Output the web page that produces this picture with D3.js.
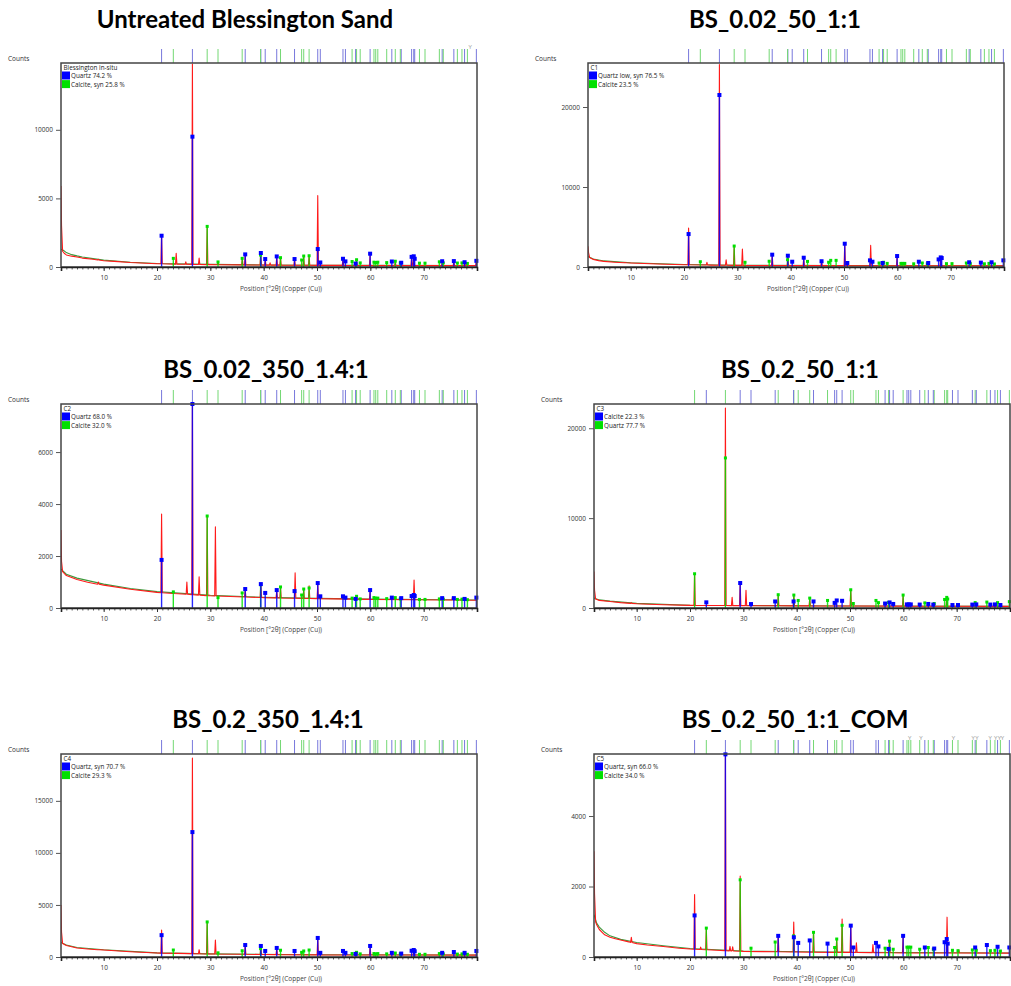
<!DOCTYPE html>
<html><head><meta charset="utf-8">
<script src="https://cdn.jsdelivr.net/npm/d3@7"></script>
<style>body{margin:0;background:#fff}svg{display:block}</style>
</head><body>
<svg id="chart" width="1011" height="986"></svg>
<script>
// ---------------- DATA ----------------
const titles = ["Untreated Blessington Sand","BS_0.02_50_1:1","BS_0.02_350_1.4:1","BS_0.2_50_1:1","BS_0.2_350_1.4:1","BS_0.2_50_1:1_COM"];
const sampleNames = ["Blessington in-situ","C1","C2","C3","C4","C5"];
const legendBlue = ["Quartz 74.2 %","Quartz low, syn 76.5 %","Quartz 68.0 %","Calcite 22.3 %","Quartz, syn 70.7 %","Quartz, syn 66.0 %"];
const legendGreen = ["Calcite, syn 25.8 %","Calcite 23.5 %","Calcite 32.0 %","Quartz 77.7 %","Calcite 29.3 %","Calcite 34.0 %"];
const yMax = [14870, 25500, 7850, 22700, 19500, 5760];
const yTicks = [[0,5000,10000],[0,10000,20000],[0,2000,4000,6000],[0,10000,20000],[0,5000,10000,15000],[0,2000,4000]];
const xTicks = [10,20,30,40,50,60,70];
const xDomain = [2, 80];
const xLabel = "Position [°2θ] (Copper (Cu))";
const yLabel = "Counts";

// reference peak positions (°2θ)
const quartzPos = [20.86,26.64,36.54,39.47,40.29,42.45,45.79,50.14,50.62,54.87,55.33,57.24,59.96,64.03,65.79,67.74,68.14,68.32,73.47,75.66,77.67,79.88];
const calcitePos = [23.06,29.41,31.44,35.97,39.42,43.16,47.12,47.51,48.52,56.58,57.42,58.10,60.68,61.01,61.40,63.07,64.68,65.62,69.21,70.25,72.94,73.68,76.32,77.18,78.20];

// stick heights (counts), parallel to quartzPos / calcitePos, one row per panel
const quartzH = [
  [2280,9500,920,1020,580,770,580,1310,330,600,410,250,970,400,310,740,780,600,420,430,350,450],
  [4120,21500,1540,1410,660,1160,720,2910,500,830,660,500,1370,660,500,950,1200,1120,590,550,590,830],
  [1850,7850,730,920,580,690,650,960,450,450,400,350,690,400,380,460,500,460,380,380,350,400],
  [3810,16700,1480,1440,840,1100,840,2030,500,840,600,620,1440,570,500,950,1180,1000,600,660,600,710],
  [2100,12000,1150,1060,580,870,580,1830,400,580,400,300,1060,400,330,600,670,550,400,480,400,580],
  [1180,5750,600,560,400,470,380,890,270,400,300,230,600,270,240,420,510,380,270,340,290,270]
];
const calciteH = [
  [630,2960,370,630,870,680,510,800,820,400,530,300,350,330,350,320,420,300,280,280,380,300,290,300,260],
  [660,2620,590,720,910,700,590,830,830,500,590,450,450,450,450,400,500,400,420,420,500,420,400,450,380],
  [620,3540,400,580,900,810,500,730,770,380,450,350,400,380,380,360,400,350,330,330,350,340,330,340,320],
  [630,2780,440,730,730,730,570,840,800,500,620,450,400,400,400,380,450,380,330,330,380,400,380,400,330],
  [670,3370,400,600,800,650,450,580,670,330,450,300,330,300,330,300,380,300,260,260,330,300,280,300,260],
  [820,2190,250,425,600,700,270,510,900,250,450,220,280,280,280,220,270,220,190,180,200,190,180,190,170]
];

// measured scan background (red) [°2θ, counts]
const scanBg = [
  [[2.0,5900],[2.1,3000],[2.3,1150],[2.6,1000],[3,880],[4,790],[5,730],[6,650],[8,560],[10,460],[12,410],[15,330],[20,240],[25,200],[30,170],[40,140],[50,120],[60,110],[70,100],[80,100]],
  [[2.0,2600],[2.1,1800],[2.3,1200],[3,950],[4,800],[5,700],[7,600],[10,500],[15,380],[20,290],[25,240],[30,200],[40,180],[50,170],[60,160],[80,150]],
  [[2.0,3000],[2.1,1800],[2.3,1400],[3,1250],[5,1100],[7,990],[10,880],[15,720],[20,600],[30,470],[40,400],[50,360],[60,330],[80,300]],
  [[2.0,4070],[2.1,2000],[2.3,1000],[3,850],[5,730],[7,600],[10,480],[15,360],[20,290],[30,260],[50,220],[80,180]],
  [[2.0,5000],[2.1,2400],[2.3,1300],[3,1100],[5,870],[7,770],[10,670],[15,500],[20,380],[30,290],[40,240],[50,200],[80,180]],
  [[2.0,3000],[2.1,1800],[2.3,1000],[2.5,915],[3,780],[4,630],[5,560],[6,520],[7,480],[8.5,430],[10,380],[12,340],[15,300],[18,250],[20,225],[25,190],[30,160],[40,140],[50,130],[60,115],[80,110]]
];
// calculated profile background (green)
const calcBg = [
  [[2.0,1300],[2.5,1200],[3,1050],[4,900],[5,810],[6,730],[8,610],[10,500],[15,350],[20,260],[30,190],[40,150],[50,130],[60,115],[80,105]],
  [[2.0,1300],[3,1000],[5,760],[10,540],[20,310],[30,220],[50,180],[80,160]],
  [[2.0,1500],[3,1300],[5,1150],[10,920],[15,750],[20,630],[30,490],[40,410],[50,370],[60,340],[80,310]],
  [[2.0,1100],[3,900],[5,760],[10,510],[20,310],[30,270],[50,230],[80,190]],
  [[2.0,1400],[3,1150],[5,920],[10,700],[20,400],[30,300],[50,210],[80,185]],
  [[2.0,1200],[2.5,960],[3,850],[4,700],[5,600],[7,500],[10,410],[15,320],[20,240],[30,170],[50,135],[80,115]]
];
// measured scan peaks [°2θ, counts]
const scanPeaks = [
  [[9.0,560],[20.86,2300],[23.6,1000],[25.4,380],[26.64,14800],[27.9,660],[29.41,2900],[31.44,350],[36.0,600],[36.54,900],[39.45,1050],[40.3,550],[41.2,300],[42.45,750],[43.16,650],[45.8,550],[47.5,750],[48.52,780],[50.14,5200],[54.87,580],[57.4,500],[59.96,950],[64.68,400],[67.74,700],[68.14,760],[73.5,400],[75.66,420],[77.7,350],[79.88,430]],
  [[9.0,560],[20.86,4870],[24.3,590],[26.64,25300],[27.9,910],[29.41,2600],[30.95,2250],[36.54,1450],[39.47,1350],[42.45,1100],[45.8,700],[50.14,2850],[55.0,2700],[59.96,1300],[68.14,1150]],
  [[9.0,1000],[20.86,3620],[23.06,600],[25.6,1000],[26.64,7850],[27.9,1200],[29.41,3500],[30.95,3120],[36.54,700],[39.47,950],[42.45,650],[43.16,780],[45.9,1350],[47.5,700],[48.52,850],[50.14,900],[59.96,680],[68.2,1080],[75.4,420]],
  [[9.0,600],[20.86,3810],[26.64,22250],[27.9,1180],[29.41,2800],[30.5,1960],[36.54,1400],[39.47,1400],[42.45,1050],[50.14,2000],[59.96,1400],[68.14,1150]],
  [[9.0,700],[20.86,2600],[26.64,19100],[27.9,700],[29.41,3370],[30.95,1630],[36.54,1100],[39.47,1000],[42.45,850],[50.14,1800],[59.96,1000],[68.14,650]],
  [[9.0,560],[20.86,1770],[22.0,280],[23.06,800],[26.64,5700],[27.5,300],[28.0,290],[29.41,2300],[36.54,600],[39.45,990],[43.16,680],[47.5,500],[48.52,1080],[50.14,880],[51.2,400],[54.3,350],[57.4,430],[59.96,600],[68.2,1130],[70.4,200]]
];
// unidentified reference markers (°2θ)
const unknownMarks = [[78.7],[],[],[],[],[61.2,63.3,69.4,73.1,73.8,76.3,77.3,78.0,78.6]];

// ---------------- LAYOUT / STYLE ----------------
const layout = [
  {x0:61, x1:477, top:63, bottom:267, tx:245, ty:28},
  {x0:588,x1:1004,top:63, bottom:267, tx:775, ty:28},
  {x0:61, x1:477, top:404,bottom:608, tx:266, ty:378},
  {x0:594,x1:1010,top:404,bottom:608, tx:800, ty:378},
  {x0:61, x1:477, top:754,bottom:957, tx:268, ty:728},
  {x0:594,x1:1010,top:754,bottom:957, tx:795, ty:728}
];
const quartzIsGreen = [false,false,false,true,false,false];
const BLUE = "#0000ff", GREEN = "#00e000";
const font = "'Open Sans', 'Noto Sans', sans-serif";

const svg = d3.select("#chart");

layout.forEach((L, i) => {
  const g = svg.append("g");
  const x = d3.scaleLinear().domain(xDomain).range([L.x0, L.x1]);
  const y = d3.scaleLinear().domain([0, yMax[i]]).range([L.bottom, L.top]);

  // title
  g.append("text").attr("x", L.tx).attr("y", L.ty).attr("text-anchor","middle")
    .attr("font-family","Lato, 'Open Sans', sans-serif").attr("font-weight","bold").attr("font-size",24)
    .attr("fill","#000").text(titles[i]);

  // Counts label
  g.append("text").attr("x", L.x0 - 53).attr("y", L.top - 2).attr("font-family", font)
    .attr("font-size", 6.5).attr("fill","#333").text(yLabel);

  const clipId = "clip" + i;
  svg.append("clipPath").attr("id", clipId).append("rect")
    .attr("x", L.x0).attr("y", L.top).attr("width", L.x1 - L.x0).attr("height", L.bottom - L.top);

  // reference lines above the frame
  const qCol = quartzIsGreen[i] ? "#74d874" : "#7878dc";
  const cCol = quartzIsGreen[i] ? "#7878dc" : "#74d874";
  const refs = quartzPos.map(p => ({p, c:qCol})).concat(calcitePos.map(p => ({p, c:cCol})));
  g.selectAll(".ref").data(refs).join("line")
    .attr("x1", d => x(d.p)).attr("x2", d => x(d.p))
    .attr("y1", L.top - 14).attr("y2", L.top).attr("stroke", d => d.c).attr("stroke-width", 1);
  g.selectAll(".unk").data(unknownMarks[i]).join("text")
    .attr("x", d => x(d)).attr("y", L.top - 14).attr("text-anchor","middle")
    .attr("font-family", font).attr("font-size", 6).attr("fill","#999").text("Y");

  const plot = g.append("g").attr("clip-path", `url(#${clipId})`);

  // calculated background (green)
  const line = d3.line().x(d => x(d[0])).y(d => y(d[1]));
  plot.append("path").datum(calcBg[i]).attr("d", line).attr("fill","none")
    .attr("stroke","#3c9a3c").attr("stroke-width",1.1);

  // measured scan: background + spikes
  const bgScale = d3.scaleLinear().domain(scanBg[i].map(d => d[0])).range(scanBg[i].map(d => d[1]));
  const pts = scanBg[i].slice();
  scanPeaks[i].forEach(([p, h]) => {
    const b = bgScale(p);
    pts.push([p - 0.13, b], [p, h], [p + 0.13, b]);
  });
  pts.sort((a, b) => a[0] - b[0]);
  plot.append("path").datum(pts).attr("d", line).attr("fill","none")
    .attr("stroke","#ff1a1a").attr("stroke-width",1.1).attr("stroke-linejoin","round");

  // phase sticks
  const qColS = quartzIsGreen[i] ? GREEN : BLUE;
  const cColS = quartzIsGreen[i] ? BLUE : GREEN;
  const qSticks = quartzPos.map((p, k) => ({p, h:quartzH[i][k], c:qColS, s: quartzIsGreen[i] ? 3 : 4}));
  const cSticks = calcitePos.map((p, k) => ({p, h:calciteH[i][k], c:cColS, s: quartzIsGreen[i] ? 4 : 3}));
  const sticks = quartzIsGreen[i] ? qSticks.concat(cSticks) : cSticks.concat(qSticks);
  plot.selectAll(".stk").data(sticks).join("line")
    .attr("x1", d => x(d.p)).attr("x2", d => x(d.p))
    .attr("y1", y(0)).attr("y2", d => y(d.h))
    .attr("stroke", d => d.c).attr("stroke-width", 1.4).attr("stroke-opacity", 0.85);
  g.selectAll(".dot").data(sticks).join("rect")
    .attr("x", d => x(d.p) - d.s/2).attr("y", d => y(d.h) - d.s/2)
    .attr("width", d => d.s).attr("height", d => d.s).attr("fill", d => d.c);

  // frame
  g.append("rect").attr("x", L.x0).attr("y", L.top).attr("width", L.x1 - L.x0).attr("height", L.bottom - L.top)
    .attr("fill","none").attr("stroke","#444").attr("stroke-width",1.5);

  // axes
  const yAxis = d3.axisLeft(y).tickValues(yTicks[i]).tickSize(5).tickPadding(3).tickFormat(d3.format("d"));
  const ya = g.append("g").attr("transform", `translate(${L.x0},0)`).call(yAxis);
  ya.select(".domain").remove();
  ya.selectAll("text").attr("font-family", font).attr("font-size", 6.5).attr("fill","#333");
  ya.selectAll("line").attr("stroke","#555");

  const minor = g.append("g").attr("transform", `translate(0,${L.bottom})`)
    .call(d3.axisBottom(x).tickValues(d3.range(2, 81, 1)).tickSize(2.5).tickFormat(""));
  minor.select(".domain").remove();
  minor.selectAll("line").attr("stroke","#333").attr("stroke-width",0.8);
  const xa = g.append("g").attr("transform", `translate(0,${L.bottom})`)
    .call(d3.axisBottom(x).tickValues(xTicks).tickSize(4).tickPadding(4).tickFormat(d3.format("d")));
  xa.select(".domain").attr("stroke","#222").attr("stroke-width",1.6);
  xa.selectAll("text").attr("font-family", font).attr("font-size", 6.5).attr("fill","#333");
  xa.selectAll("line").attr("stroke","#333");

  g.append("text").attr("x", (L.x0 + L.x1)/2 + 12).attr("y", L.bottom + 24).attr("text-anchor","middle")
    .attr("font-family", font).attr("font-size", 6.5).attr("fill","#444").text(xLabel);

  // legend
  g.append("text").attr("x", L.x0 + 2.5).attr("y", L.top + 7).attr("font-family", font)
    .attr("font-size", 6.3).attr("fill","#222").text(sampleNames[i]);
  const leg = [{c:BLUE, t:legendBlue[i]}, {c:GREEN, t:legendGreen[i]}];
  leg.forEach((d, k) => {
    g.append("rect").attr("x", L.x0 + 1).attr("y", L.top + 8.5 + k*8.6).attr("width", 8).attr("height", 8).attr("fill", d.c);
    g.append("text").attr("x", L.x0 + 10).attr("y", L.top + 14.8 + k*8.8).attr("font-family", font)
      .attr("font-size", 6.3).attr("fill","#222").text(d.t);
  });
});
</script>
</body></html>
